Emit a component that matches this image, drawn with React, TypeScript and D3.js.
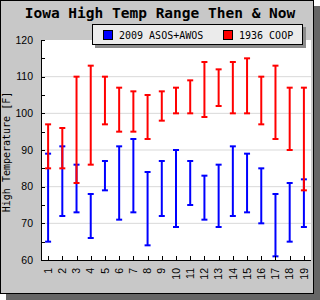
import * as d3 from 'd3';

// daily high temperature ranges [F] for each day of the month
const days = d3.range(1, 20).map(String);
const asosLow = [65, 72, 73, 66, 79, 71, 73, 64, 72, 69, 75, 71, 69, 72, 73, 70, 61, 65, 69];
const asosHigh = [89, 91, 86, 78, 87, 91, 93, 84, 87, 90, 87, 83, 86, 91, 89, 85, 78, 81, 82];
const coopLow = [85, 85, 81, 86, 97, 95, 95, 93, 98, 100, 100, 99, 102, 100, 100, 97, 93, 90, 79];
const coopHigh = [97, 96, 110, 113, 110, 107, 106, 105, 106, 107, 109, 114, 112, 114, 115, 110, 113, 107, 107];
const yTicks = [60, 70, 80, 90, 100, 110, 120];

const W = 320;
const H = 300;
const plot = { left: 41, right: 311, top: 40, bottom: 260 };
const mono = "'DejaVu Sans Mono', 'Liberation Mono', monospace";
const sans = "'Liberation Sans', Arial, sans-serif";

export default function App() {
  const x = d3.scalePoint<string>().domain(days).range([plot.left, plot.right]).padding(0.5);
  const y = d3.scaleLinear().domain([60, 120]).range([plot.bottom, plot.top]);
  const minor = d3.range(60, 121, 5);

  const bars = (lo: number[], hi: number[], color: string) =>
    days.map((d, i) => {
      const cx = x(d)!;
      return (
        <g key={d} stroke={color} strokeWidth={2}>
          <line x1={cx} x2={cx} y1={y(lo[i])} y2={y(hi[i])} />
          <line x1={cx - 3} x2={cx + 3} y1={y(lo[i])} y2={y(lo[i])} />
          <line x1={cx - 3} x2={cx + 3} y1={y(hi[i])} y2={y(hi[i])} />
        </g>
      );
    });

  return (
    <svg width={W} height={H} style={{ position: 'absolute', left: 0, top: 0 }}>
      {/* frame and drop shadow */}
      <rect x={6} y={6} width={314} height={294} fill="#666666" />
      <rect x={0.5} y={0.5} width={313} height={293} fill="#c8c8c8" stroke="#000" />

      <text x={160} y={18} textAnchor="middle" fontFamily={mono} fontWeight="bold" fontSize={14.5} fill="#000">
        Iowa High Temp Range Then &amp; Now
      </text>

      {/* plot area */}
      <rect x={plot.left} y={plot.top} width={plot.right - plot.left} height={plot.bottom - plot.top} fill="#fff" />
      {yTicks.slice(1, -1).map((t) => (
        <line key={t} x1={plot.left} x2={plot.right} y1={y(t)} y2={y(t)} stroke="#d9d9d9" />
      ))}

      {bars(asosLow, asosHigh, '#0000ff')}
      {bars(coopLow, coopHigh, '#ff0000')}

      {/* y axis */}
      <line x1={plot.left + 0.5} x2={plot.left + 0.5} y1={plot.top} y2={plot.bottom} stroke="#000" />
      {minor.map((t) => (
        <line key={t} x1={plot.left} x2={plot.left + 4} y1={Math.round(y(t)) + 0.5} y2={Math.round(y(t)) + 0.5} stroke="#000" />
      ))}
      {yTicks.map((t) => (
        <text key={t} x={33} y={y(t)} dy="0.35em" textAnchor="end" fontFamily={sans} fontSize={10.5} fill="#000">
          {t}
        </text>
      ))}
      <text
        transform={`translate(10,${(plot.top + plot.bottom) / 2 + 2}) rotate(-90)`}
        textAnchor="middle"
        fontFamily={mono}
        fontSize={10}
        fill="#000"
      >
        High Temperature [F]
      </text>

      {/* x axis */}
      <line x1={plot.left} x2={plot.right} y1={plot.bottom + 0.5} y2={plot.bottom + 0.5} stroke="#000" />
      {days.map((d) => (
        <g key={d}>
          <line x1={Math.round(x(d)!) + 0.5} x2={Math.round(x(d)!) + 0.5} y1={plot.bottom} y2={plot.bottom - 4} stroke="#000" />
          <text
            transform={`translate(${x(d)},268) rotate(-90)`}
            dy="0.35em"
            textAnchor="end"
            fontFamily={sans}
            fontSize={10.5}
            fill="#000"
          >
            {d}
          </text>
        </g>
      ))}

      {/* legend */}
      <rect x={95} y={27} width={211} height={21} fill="#8c8c8c" />
      <rect x={92.5} y={24.5} width={210} height={20} fill="#ebebeb" stroke="#000" />
      <rect x={103.5} y={30.5} width={9} height={9} fill="#0000ff" stroke="#000" />
      <text x={119} y={35} dy="0.35em" fontFamily={mono} fontSize={10} fill="#000">2009 ASOS+AWOS</text>
      <rect x={223.5} y={30.5} width={9} height={9} fill="#ff0000" stroke="#000" />
      <text x={239} y={35} dy="0.35em" fontFamily={mono} fontSize={10} fill="#000">1936 COOP</text>
    </svg>
  );
}
